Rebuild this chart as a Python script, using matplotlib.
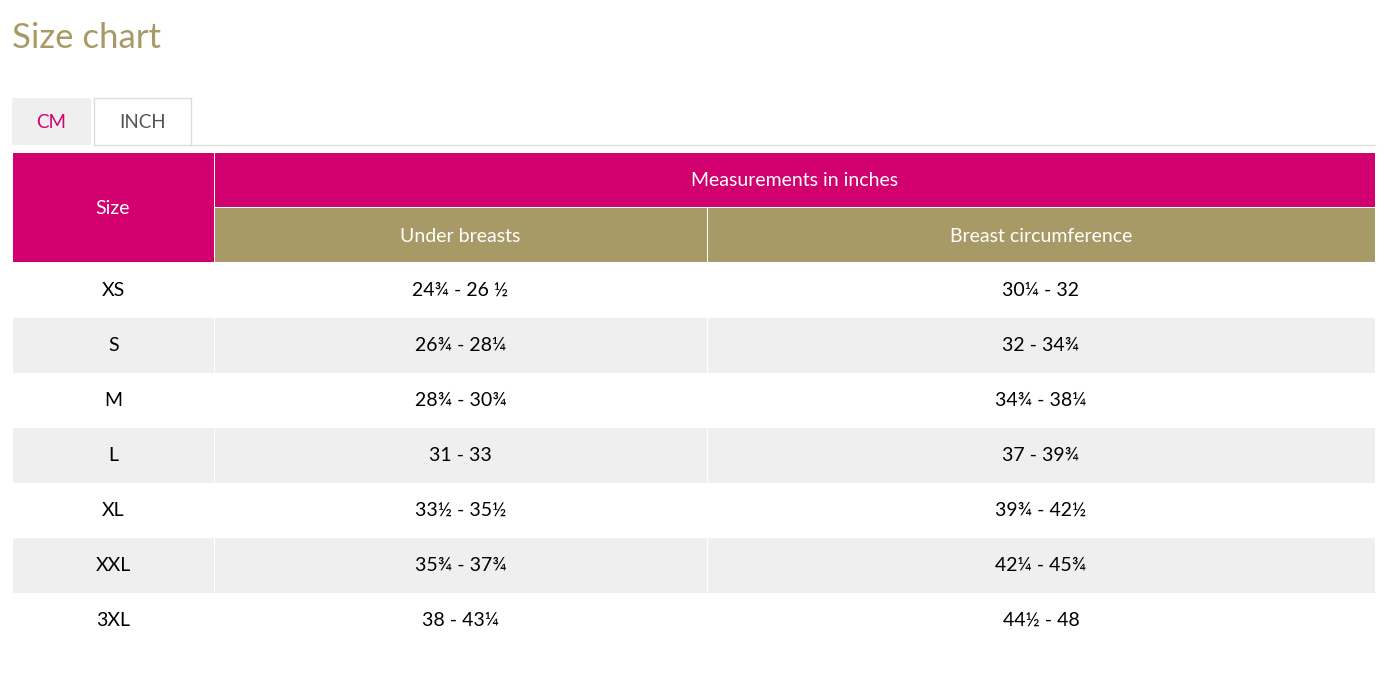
#!/usr/bin/env python3
import matplotlib.pyplot as plt
from matplotlib.patches import Rectangle

plt.rcParams['font.family'] = ['Lato', 'DejaVu Sans']

# 1. The size table (inches)
sizes = ['XS', 'S', 'M', 'L', 'XL', 'XXL', '3XL']
under = ['24¾ - 26 ½', '26¾ - 28¼', '28¾ - 30¾', '31 - 33', '33½ - 35½', '35¾ - 37¾', '38 - 43¼']
breast = ['30¼ - 32', '32 - 34¾', '34¾ - 38¼', '37 - 39¾', '39¾ - 42½', '42¼ - 45¾', '44½ - 48']

magenta = '#D1006E'
gold = '#A89A66'
grey = '#EFEFEF'

# column edges in pixels
cols = [13, 214, 707, 1375]
row_h = 55
top = 263

# 2. Create the canvas
plt.figure(figsize=(13.9, 6.75), dpi=100)
ax = plt.axes([0, 0, 1, 1])
ax.set_xlim(0, 1390)
ax.set_ylim(675, 0)
ax.axis('off')

plt.text(12, 38, 'Size chart', fontsize=25, color=gold, va='center')

# tabs
ax.add_patch(Rectangle((12, 98), 79, 47, facecolor=grey, edgecolor='none'))
ax.add_patch(Rectangle((94, 98), 97, 47, facecolor='white', edgecolor='#DDDDDD', lw=1))
plt.plot([191, 1375], [144.5, 144.5], color='#DDDDDD', lw=1)
plt.text(51, 123, 'CM', fontsize=13.5, color=magenta, ha='center', va='center')
plt.text(143, 123, 'INCH', fontsize=13.5, color='#555555', ha='center', va='center')

# header
ax.add_patch(Rectangle((cols[0], 153), cols[1] - cols[0], 109, facecolor=magenta, edgecolor='none'))
ax.add_patch(Rectangle((cols[1] + 1, 153), cols[3] - cols[1] - 1, 54, facecolor=magenta, edgecolor='none'))
ax.add_patch(Rectangle((cols[1] + 1, 208), cols[2] - cols[1] - 1, 54, facecolor=gold, edgecolor='none'))
ax.add_patch(Rectangle((cols[2] + 1, 208), cols[3] - cols[2] - 1, 54, facecolor=gold, edgecolor='none'))
plt.text(113, 208, 'Size', fontsize=14, color='white', ha='center', va='center')
plt.text((cols[1] + cols[3]) / 2, 181, 'Measurements in inches', fontsize=14, color='white', ha='center', va='center')
plt.text((cols[1] + cols[2]) / 2, 236, 'Under breasts', fontsize=14, color='white', ha='center', va='center')
plt.text((cols[2] + cols[3]) / 2, 236, 'Breast circumference', fontsize=14, color='white', ha='center', va='center')

# 3. Body rows
for i, (s, u, b) in enumerate(zip(sizes, under, breast)):
    y0 = top + i * row_h
    if i % 2 == 1:
        for c in range(3):
            ax.add_patch(Rectangle((cols[c] + (1 if c else 0), y0), cols[c + 1] - cols[c] - (1 if c else 0), row_h,
                                   facecolor=grey, edgecolor='none'))
    yc = y0 + row_h / 2
    plt.text((cols[0] + cols[1]) / 2, yc, s, fontsize=14, color='black', ha='center', va='center')
    plt.text((cols[1] + cols[2]) / 2, yc, u, fontsize=14, color='black', ha='center', va='center')
    plt.text((cols[2] + cols[3]) / 2, yc, b, fontsize=14, color='black', ha='center', va='center')

# 4. Save
plt.savefig('out.png', dpi=100)
